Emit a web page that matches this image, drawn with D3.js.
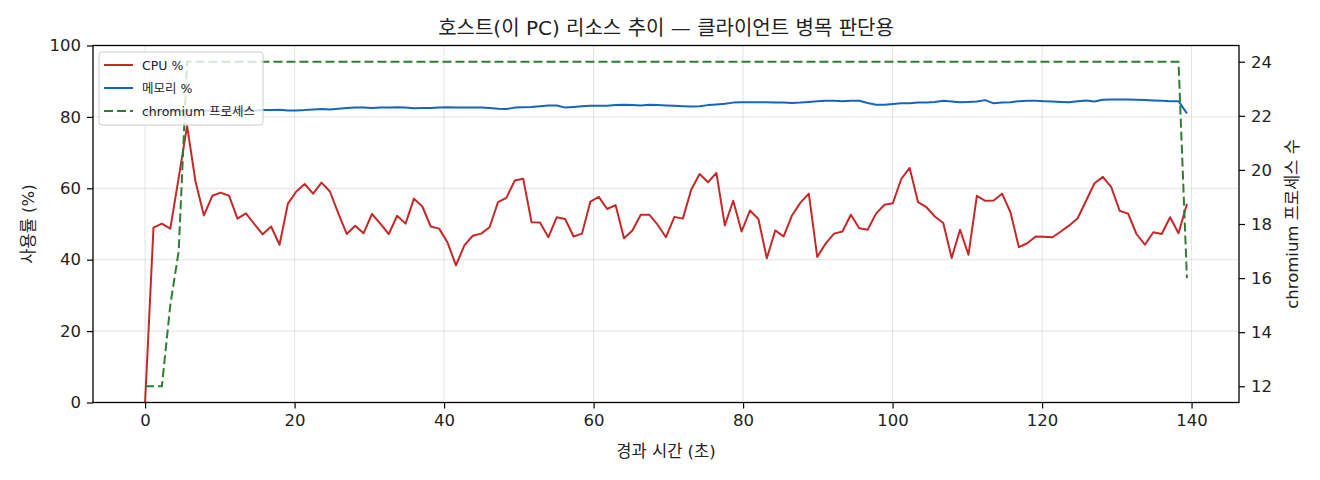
<!DOCTYPE html>
<html>
<head>
<meta charset="utf-8">
<script src="https://cdn.jsdelivr.net/npm/d3@7"></script>
<style>
  body { margin: 0; background: #fff; }
  text { font-family: "DejaVu Sans", "Noto Sans CJK KR", sans-serif; fill: #222; }
</style>
</head>
<body>
<svg id="chart" width="1320" height="480"></svg>
<script>
// seconds between two samples
const sampleSec = 1.124;

const cpuPct = [
  0, 49.0, 50.1, 48.7, 63.0, 77.5, 61.9, 52.4, 57.9, 58.8,
  57.9, 51.5, 53.0, 50.0, 47.1, 49.3, 44.2, 55.7, 59.1, 61.2,
  58.5, 61.6, 59.1, 53.0, 47.2, 49.5, 47.4, 52.8, 50.1, 47.2,
  52.3, 50.1, 57.1, 54.9, 49.3, 48.7, 44.8, 38.4, 44.0, 46.7,
  47.3, 49.1, 56.1, 57.3, 62.2, 62.7, 50.5, 50.4, 46.3, 51.9,
  51.4, 46.5, 47.3, 56.3, 57.6, 54.2, 55.3, 46.0, 48.2, 52.6,
  52.6, 49.8, 46.3, 52.0, 51.5, 59.6, 64.0, 61.7, 64.3, 49.6,
  56.5, 47.9, 53.8, 51.4, 40.4, 48.2, 46.5, 52.4, 56.0, 58.5,
  40.8, 44.5, 47.3, 47.9, 52.6, 48.8, 48.4, 52.9, 55.4, 55.8,
  62.6, 65.7, 56.1, 54.7, 52.1, 50.3, 40.5, 48.4, 41.4, 57.9,
  56.5, 56.6, 58.5, 53.3, 43.5, 44.6, 46.5, 46.4, 46.3, 47.9,
  49.6, 51.6, 56.5, 61.4, 63.2, 60.3, 53.7, 52.9, 47.2, 44.2,
  47.7, 47.2, 51.9, 47.4, 55.6
];

const memPct = [
  81.5, 81.5, 81.6, 81.6, 81.6, 81.7, 81.7, 81.8, 81.8, 81.7,
  81.8, 81.8, 81.7, 81.7, 81.9, 81.9, 82.0, 81.8, 81.8, 81.9,
  82.1, 82.2, 82.1, 82.3, 82.5, 82.6, 82.6, 82.5, 82.6, 82.6,
  82.7, 82.6, 82.4, 82.5, 82.5, 82.6, 82.7, 82.6, 82.6, 82.6,
  82.6, 82.5, 82.3, 82.2, 82.6, 82.7, 82.8, 83.0, 83.2, 83.2,
  82.6, 82.8, 83.0, 83.1, 83.1, 83.1, 83.3, 83.4, 83.3, 83.2,
  83.4, 83.3, 83.2, 83.1, 83.0, 82.9, 83.0, 83.3, 83.5, 83.7,
  84.0, 84.1, 84.1, 84.1, 84.1, 84.0, 84.0, 83.9, 84.0, 84.2,
  84.4, 84.5, 84.5, 84.4, 84.5, 84.5, 83.9, 83.4, 83.4, 83.6,
  83.8, 83.8, 84.0, 84.0, 84.2, 84.5, 84.3, 84.1, 84.2, 84.3,
  84.7, 83.8, 84.0, 84.1, 84.4, 84.5, 84.5, 84.4, 84.3, 84.2,
  84.1, 84.4, 84.6, 84.3, 84.8, 84.9, 84.9, 84.9, 84.8, 84.7,
  84.6, 84.5, 84.4, 84.4, 81.0
];

const chromiumProcs = [
  12, 12, 12, 15, 17, 24, 24, 24, 24, 24,
  24, 24, 24, 24, 24, 24, 24, 24, 24, 24,
  24, 24, 24, 24, 24, 24, 24, 24, 24, 24,
  24, 24, 24, 24, 24, 24, 24, 24, 24, 24,
  24, 24, 24, 24, 24, 24, 24, 24, 24, 24,
  24, 24, 24, 24, 24, 24, 24, 24, 24, 24,
  24, 24, 24, 24, 24, 24, 24, 24, 24, 24,
  24, 24, 24, 24, 24, 24, 24, 24, 24, 24,
  24, 24, 24, 24, 24, 24, 24, 24, 24, 24,
  24, 24, 24, 24, 24, 24, 24, 24, 24, 24,
  24, 24, 24, 24, 24, 24, 24, 24, 24, 24,
  24, 24, 24, 24, 24, 24, 24, 24, 24, 24,
  24, 24, 24, 24, 16
];

const xTicks = [0, 20, 40, 60, 80, 100, 120, 140];
const yLeftTicks = [0, 20, 40, 60, 80, 100];
const yRightTicks = [12, 14, 16, 18, 20, 22, 24];

const seriesNames = ['CPU %', '메모리 %', 'chromium 프로세스'];
const seriesColors = ['#c62828', '#1565c0', '#2e7d32'];

var svg = d3.select('#chart');
var plot = { left: 93, right: 1239, top: 45.5, bottom: 402.5 };

var times = cpuPct.map((d, i) => i * sampleSec);
var tMax = d3.max(times);

// matplotlib style 5% margins
var x = d3.scaleLinear()
    .domain([-0.05 * tMax, tMax * 1.05])
    .range([plot.left, plot.right]);
var yL = d3.scaleLinear().domain([0, 100]).range([plot.bottom, plot.top]);
var yR = d3.scaleLinear().domain([11.4, 24.6]).range([plot.bottom, plot.top]);

// grid
var grid = svg.append('g').attr('stroke', '#b0b0b0').attr('stroke-opacity', 0.35).attr('stroke-width', 1);
xTicks.forEach(function (t) {
    grid.append('line').attr('x1', x(t)).attr('x2', x(t)).attr('y1', plot.top).attr('y2', plot.bottom);
});
yLeftTicks.forEach(function (t) {
    grid.append('line').attr('x1', plot.left).attr('x2', plot.right).attr('y1', yL(t)).attr('y2', yL(t));
});

// lines
svg.append('clipPath').attr('id', 'clip').append('rect')
    .attr('x', plot.left).attr('y', plot.top)
    .attr('width', plot.right - plot.left).attr('height', plot.bottom - plot.top);

var lines = svg.append('g').attr('clip-path', 'url(#clip)');

var pctLine = d3.line().x((d, i) => x(times[i])).y(d => yL(d));
var procLine = d3.line().x((d, i) => x(times[i])).y(d => yR(d));

lines.append('path').datum(cpuPct).attr('d', pctLine)
    .attr('fill', 'none').attr('stroke', seriesColors[0]).attr('stroke-width', 2)
    .attr('stroke-linejoin', 'round');
lines.append('path').datum(memPct).attr('d', pctLine)
    .attr('fill', 'none').attr('stroke', seriesColors[1]).attr('stroke-width', 2)
    .attr('stroke-linejoin', 'round');
lines.append('path').datum(chromiumProcs).attr('d', procLine)
    .attr('fill', 'none').attr('stroke', seriesColors[2]).attr('stroke-width', 2)
    .attr('stroke-dasharray', '9,4');

// axes
function styleAxis(g) {
    g.select('.domain').remove();
    g.selectAll('.tick line').attr('stroke', '#000').attr('stroke-width', 1.2);
    g.selectAll('.tick text').style('font-size', '16.5px').attr('fill', '#222');
}

svg.append('g')
    .attr('transform', 'translate(0,' + plot.bottom + ')')
    .call(d3.axisBottom(x).tickValues(xTicks).tickSize(6).tickPadding(6))
    .call(styleAxis);

svg.append('g')
    .attr('transform', 'translate(' + plot.left + ',0)')
    .call(d3.axisLeft(yL).tickValues(yLeftTicks).tickSize(6).tickPadding(6))
    .call(styleAxis);

svg.append('g')
    .attr('transform', 'translate(' + plot.right + ',0)')
    .call(d3.axisRight(yR).tickValues(yRightTicks).tickSize(6).tickPadding(6))
    .call(styleAxis);

svg.append('rect')
    .attr('x', plot.left).attr('y', plot.top)
    .attr('width', plot.right - plot.left).attr('height', plot.bottom - plot.top)
    .attr('fill', 'none').attr('stroke', '#000').attr('stroke-width', 1.3);

// labels
svg.append('text').attr('x', (plot.left + plot.right) / 2).attr('y', 35)
    .attr('text-anchor', 'middle').style('font-size', '20px')
    .text('호스트(이 PC) 리소스 추이 — 클라이언트 병목 판단용');

svg.append('text').attr('x', (plot.left + plot.right) / 2).attr('y', 457)
    .attr('text-anchor', 'middle').style('font-size', '16.5px')
    .text('경과 시간 (초)');

svg.append('text')
    .attr('transform', 'translate(34,' + (plot.top + plot.bottom) / 2 + ') rotate(-90)')
    .attr('text-anchor', 'middle').style('font-size', '16.5px')
    .text('사용률 (%)');

svg.append('text')
    .attr('transform', 'translate(1298,' + (plot.top + plot.bottom) / 2 + ') rotate(-90)')
    .attr('text-anchor', 'middle').style('font-size', '16.5px')
    .text('chromium 프로세스 수');

// legend
var legend = svg.append('g').attr('transform', 'translate(99,52)');
legend.append('rect')
    .attr('width', 164).attr('height', 73).attr('rx', 3)
    .attr('fill', '#fff').attr('fill-opacity', 0.8)
    .attr('stroke', '#ccc').attr('stroke-width', 1);

seriesNames.forEach(function (name, i) {
    var yy = 13 + i * 23;
    legend.append('line')
        .attr('x1', 5).attr('x2', 34).attr('y1', yy).attr('y2', yy)
        .attr('stroke', seriesColors[i]).attr('stroke-width', 2)
        .attr('stroke-dasharray', i == 2 ? '9,4' : null);
    legend.append('text')
        .attr('x', 43).attr('y', yy + 4.5)
        .style('font-size', '12.5px')
        .text(name);
});
</script>
</body>
</html>
